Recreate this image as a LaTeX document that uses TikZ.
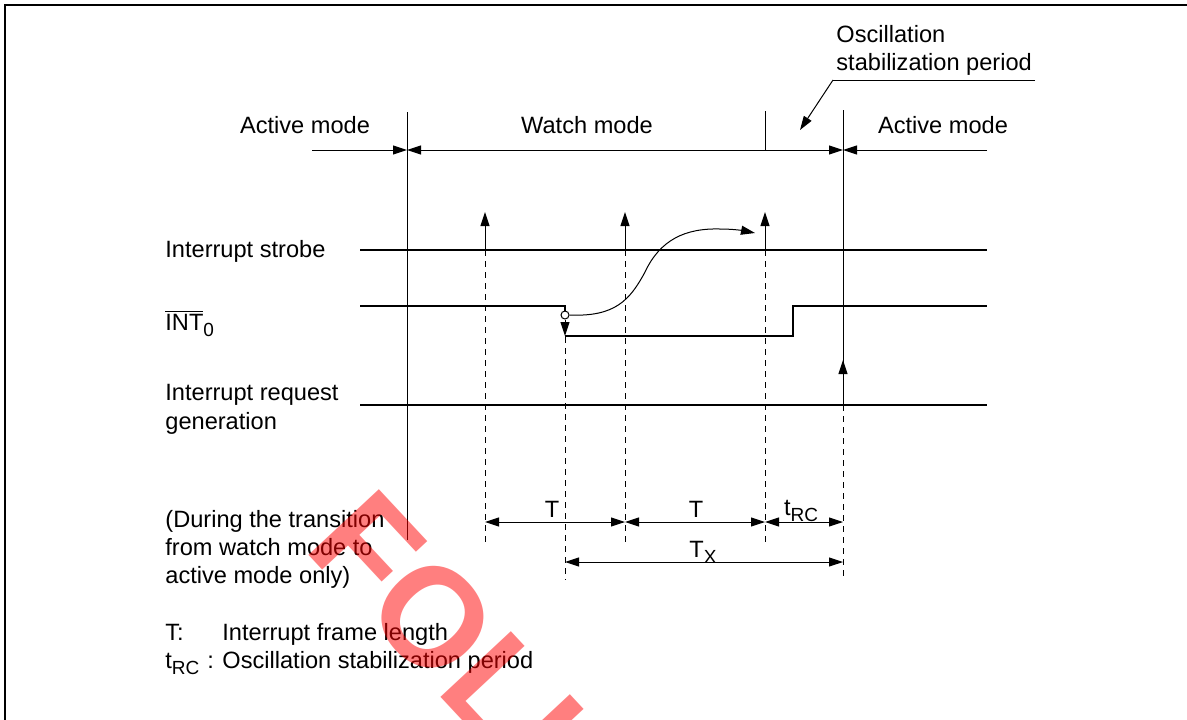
\documentclass[tikz,border=0pt]{standalone}
\usepackage{fontspec}
\setmainfont{Liberation Sans}
\usetikzlibrary{arrows.meta}
\newcommand\sbsc[1]{\raisebox{-0.5ex}{\fontsize{9.5pt}{10pt}\selectfont #1}}
\begin{document}
\begin{tikzpicture}[x=0.5pt,y=-0.5pt,
  lbl/.style={font=\fontsize{11.8pt}{14pt}\selectfont, inner sep=0pt},
  sig/.style={line width=0.75pt},
  thn/.style={line width=0.5pt},
  dsh/.style={line width=0.5pt, dash pattern=on 3pt off 2.5pt},
  tip/.style={-{Triangle[length=7pt,width=4.5pt]}},
  dtip/.style={{Triangle[length=7pt,width=4.5pt]}-{Triangle[length=7pt,width=4.5pt]}},
  frm/.style={line width=0.8pt},
  wm/.style={font=\fontsize{70pt}{70pt}\selectfont\bfseries, text=red, opacity=0.5, inner sep=0pt, rotate=-47}
]
\useasboundingbox (0,0) rectangle (1187,719);
% frame
\draw[frm] (5,730) -- (5,5) -- (1200,5);

% coordinates
\coordinate (a1) at (407,112);
\coordinate (a2) at (407,540);
\coordinate (b1) at (843,110);
\coordinate (b2) at (843,405);
\coordinate (b3) at (843,580);
\coordinate (m0) at (312,150);
\coordinate (mA) at (407,150);
\coordinate (mB) at (843,150);
\coordinate (m9) at (987,150);
\coordinate (k1) at (765,111);
\coordinate (k2) at (765,150);

% mode labels
\node[lbl, anchor=base] (am1) at (305,133) {Active mode};
\node[lbl, anchor=base] (wm1) at (587,133) {Watch mode};
\node[lbl, anchor=base] (am2) at (943,133) {Active mode};
\node[lbl, anchor=base west] (osc1) at (836,42) {Oscillation};
\node[lbl, anchor=base west] (osc2) at (836,70) {stabilization period};

% mode line
\draw[thn] (a1) -- (a2);
\draw[thn] (b1) -- (b2);
\draw[thn] (k1) -- (k2);
\draw[thn, tip] (m0) -- (mA);
\draw[thn, dtip] (mA) -- (mB);
\draw[thn, tip] (m9) -- (mB);

% oscillation leader
\coordinate (u1) at (833,80);
\coordinate (u2) at (1035,80);
\coordinate (u3) at (800,130);
\draw[thn] (u2) -- (u1);
\draw[thn, tip] (u1) -- (u3);

% signal labels
\node[lbl, anchor=base west] (s1) at (165,257) {Interrupt strobe};
\node[lbl, anchor=base west] (s2) at (165,330) {$\overline{\hbox{INT}}$\sbsc{0}};
\node[lbl, anchor=base west] (s3) at (165,400) {Interrupt request};
\node[lbl, anchor=base west] (s3b) at (165,429) {generation};

% signal lines
\draw[sig] (360,250) -- (987,250);
\draw[sig] (360,405) -- (987,405);
\draw[sig] (360,306) -- (565,306) -- (565,311);
\draw[sig] (565,336) -- (793,336) -- (793,306) -- (987,306);
\node[circle, draw, fill=white, line width=0.5pt, minimum size=4pt, inner sep=0pt] (cc) at (565,315) {};
\draw[thn, tip] (cc.south) -- (565,336);

% strobe arrows
\foreach \x in {485,625,765} {
  \draw[thn, tip] (\x,250) -- (\x,212);
  \draw[dsh] (\x,250) -- (\x,542);
}
% request arrow
\draw[thn, tip] (843,405) -- (843,360);
\draw[dsh] (b2) -- (b3);
\draw[dsh] (565,337) -- (565,580);

% curve
\draw[thn] (cc.east) .. controls (615,317) and (630,300) .. (645,272)
  .. controls (660,240) and (685,228) .. (720,229);
\draw[thn, tip] (720,229) .. controls (735,229) and (745,231) .. (755,233);

% dimension arrows
\draw[thn, dtip] (485,522) -- (625,522);
\draw[thn, dtip] (625,522) -- (765,522);
\draw[thn, dtip] (765,522) -- (843,522);
\draw[thn, dtip] (565,562) -- (843,562);
\node[lbl, anchor=base] (t1) at (552,517) {T};
\node[lbl, anchor=base] (t2) at (696,517) {T};
\node[lbl, anchor=base] (t3) at (801,515) {t\sbsc{RC}};
\node[lbl, anchor=base] (tx) at (703,557) {T\sbsc{X}};

% notes
\node[lbl, anchor=base west] (n1) at (165,527) {(During the transition};
\node[lbl, anchor=base west] (n2) at (165,555) {from watch mode to};
\node[lbl, anchor=base west] (n3) at (165,583) {active mode only)};
\node[lbl, anchor=base west] (l1) at (165,640) {T:};
\node[lbl, anchor=base west] (l1b) at (222,640) {Interrupt frame length};
\node[lbl, anchor=base west] (l2) at (165,668) {t\sbsc{RC}};
\node[lbl, anchor=base west] (l2c) at (207,668) {:};
\node[lbl, anchor=base west] (l2b) at (222,668) {Oscillation stabilization period};

% watermark
\node[wm] (wmk) at (462,649) {FOLL};
\end{tikzpicture}
\end{document}
